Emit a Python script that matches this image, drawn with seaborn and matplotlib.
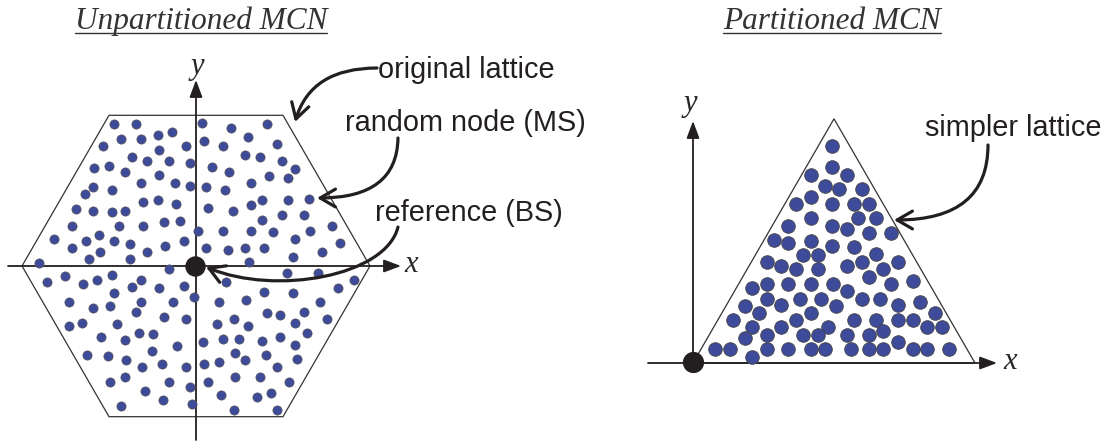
import numpy as np
import pandas as pd
import seaborn as sns
import matplotlib.pyplot as plt
from matplotlib.patches import Polygon, FancyArrowPatch
from matplotlib.path import Path

# random nodes inside the hexagon (origin = reference BS)
hex_x = [-82, -60, -38, -24, -75, -55, -93, -10, -37, -64, -49, -27, -6, -102, -87,
         -71, -37, -55, -21, -6, -103, -111, -84, -120, -103, -84, -71, -53, -38, -20,
         -124, -77, -53, -32, -16, 2, -142, -97, -110, -82, -66, -31, -12, -124, -96,
         -49, -107, -66, -157, -27,
         6, 35, 71, 8, 52, 27, 81, 49, 64, 86, 99, 16, 33, 73, 92, 55, 10, 29, 113, 92,
         66, 55, 12, 37, 86, 108, 66, 27, 55, 77, 114, 136, 99, 144, 10, 32, 49, 68, 126,
         97, 53, 91, 122,
         -149, -131, -113, -99, -84, -82, -64, -55, -37, -12, -2, -127, -103, -86, -55,
         -23, -60, -127, -114, -79, -32, -10, -95, -71, -57, -43, -19, -109, -88, -70,
         -44, -54, -34, -10, -86, -71, -51, -27, -6, -75, -33, -4,
         30, 158, 142, 68, 97, 23, 50, 124, 71, 84, 108, 131, 21, 38, 52, 99, 111, 7, 27,
         43, 66, 84, 99, 39, 49, 70, 101, 8, 23, 81, 12, 39, 64, 93, 25, 61, 75, 38, 81]
hex_y = [142, 142, 131, 134, 127, 127, 120, 120, 116, 109, 105, 105, 103, 98, 100,
         94, 91, 83, 83, 80, 79, 72, 76, 57, 55, 54, 55, 64, 66, 62,
         40, 40, 40, 44, 45, 35, 27, 31, 25, 25, 22, 20, 25, 18, 14,
         14, 7, 7, 3, -3,
         143, 138, 142, 125, 129, 120, 122, 111, 109, 105, 97, 99, 94, 90, 88, 83, 79, 76, 67, 66,
         66, 61, 58, 55, 51, 51, 46, 35, 35, 34, 35, 40, 27, 23, 18, 16, 18, 18, 14,
         9, 4, -7, -7,
         -16, -10, -18, -14, -9, -27, -21, -14, -22, -20, -31, -36, -42, -40, -36,
         -36, -46, -60, -57, -58, -51, -53, -71, -74, -67, -68, -80, -89, -90, -94,
         -85, -101, -98, -101, -116, -111, -125, -116, -121, -140, -134, -138,
         -16, -14, -22, -26, -27, -36, -34, -36, -47, -49, -46, -53, -58, -53, -60, -57, -67, -76, -73,
         -73, -75, -71, -79, -87, -94, -89, -93, -98, -96, -101, -116, -111, -111, -116, -129, -131, -127, -144, -144]

# nodes of the simpler (partitioned) lattice, origin at the triangle corner
tri_x = [139, 139, 118, 154, 132, 146, 169, 118, 103, 139, 161, 176, 118, 165, 183,
         95, 139, 154, 176, 198, 81, 95, 118, 139, 161, 183, 110, 125, 74, 88,
         103, 125, 169, 154, 190, 205, 176, 198, 220, 59, 74, 95, 118, 140, 154,
         74, 107, 128, 169, 187, 52, 88, 143, 205, 227, 66, 118, 242, 40, 103,
         161, 183, 205, 220, 59, 88, 135, 234, 249, 52, 74, 110, 125, 154, 176,
         190, 205, 22, 37, 74, 95, 118, 132, 158, 176, 190, 220, 234, 256, 59]
tri_y = [217, 196, 188, 188, 177, 174, 174, 166, 159, 159, 159, 159, 145, 145, 145,
         137, 137, 134, 130, 130, 123, 120, 122, 117, 116, 109, 108, 108, 101, 97,
         94, 94, 101, 97, 94, 101, 86, 79, 82, 75, 79, 79, 79, 79, 72,
         64, 64, 64, 64, 64, 57, 58, 57, 58, 61, 50, 50, 50, 43, 43,
         43, 43, 43, 43, 36, 36, 36, 36, 36, 25, 28, 28, 28, 28, 28,
         32, 21, 14, 14, 14, 14, 14, 14, 14, 14, 14, 14, 14, 14, 6]

hex_radius = 174
tri_side = 282

titles = ["Unpartitioned MCN", "Partitioned MCN"]
callouts = ["original lattice", "random node (MS)", "reference (BS)", "simpler lattice"]

node_color = "#3e4a9a"
ink = "#231f20"
line_gray = "#6b6b6b"
sans = ["Liberation Sans", "DejaVu Sans"]
serif = ["Liberation Serif", "DejaVu Serif"]
label_size = 20.8

sns.set_theme(style="white")

fig = plt.figure(figsize=(11.07, 4.42), dpi=100)
ax_l = fig.add_axes([0, 0, 620 / 1107, 1])
ax_r = fig.add_axes([620 / 1107, 0, 487 / 1107, 1])
ax_l.set_xlim(-196, 424)
ax_l.set_ylim(-176, 266)
ax_r.set_xlim(-73, 414)
ax_r.set_ylim(-79, 363)
for ax in (ax_l, ax_r):
    ax.set_axis_off()


def axis_arrow(ax, start, tip):
    ax.annotate("", xy=tip, xytext=start,
                arrowprops=dict(arrowstyle="-|>,head_length=0.8,head_width=0.3",
                                mutation_scale=13, lw=1.3, color=line_gray,
                                fc=ink, ec=ink, shrinkA=0, shrinkB=0),
                zorder=2)


def callout(ax, verts, codes):
    p = FancyArrowPatch(path=Path(verts, codes),
                        arrowstyle="->,head_length=0.55,head_width=0.32",
                        mutation_scale=20, lw=2.3, color=ink, zorder=5)
    ax.add_patch(p)


# ---- left panel: unpartitioned hexagon ----
ang = np.deg2rad(np.arange(0, 360, 60))
hexagon = Polygon(np.column_stack([hex_radius * np.cos(ang), hex_radius * np.sin(ang)]),
                  closed=True, fill=False, ec="#333333", lw=0.9, zorder=1)
ax_l.add_patch(hexagon)
axis_arrow(ax_l, (-188, 0), (205, 0))
axis_arrow(ax_l, (0, -174), (0, 186))

df_hex = pd.DataFrame({"x": hex_x, "y": hex_y})
sns.scatterplot(data=df_hex, x="x", y="y", ax=ax_l, s=44, color=node_color,
                edgecolor="#555555", linewidth=0.5, zorder=3)
sns.scatterplot(x=[-1], y=[0], ax=ax_l, s=185, color=ink, edgecolor=ink, zorder=4)

ax_l.text(215, -5.5, "x", fontsize=22, style="italic", family=serif, ha="center", va="baseline")
ax_l.text(1.5, 192, "y", fontsize=22, style="italic", family=serif, ha="center", va="baseline")

ax_l.text(182, 188, callouts[0], fontsize=label_size, family=sans, color=ink, va="baseline")
ax_l.text(149, 135, callouts[1], fontsize=label_size, family=sans, color=ink, va="baseline")
ax_l.text(179, 45, callouts[2], fontsize=label_size, family=sans, color=ink, va="baseline")

callout(ax_l, [(181, 198), (115, 198), (99, 144)], [Path.MOVETO, Path.CURVE3, Path.CURVE3])
callout(ax_l, [(202, 128), (201, 68), (121, 68)], [Path.MOVETO, Path.CURVE3, Path.CURVE3])
callout(ax_l, [(202, 39), (190, -10), (80, -30), (10, -1)],
        [Path.MOVETO, Path.CURVE4, Path.CURVE4, Path.CURVE4])

t_l = ax_l.text(5, 237, titles[0], fontsize=22.5, style="italic", family=serif,
                color="#333333", ha="center", va="baseline")

# ---- right panel: partitioned triangle ----
triangle = Polygon([(0, 0), (tri_side, 0), (tri_side / 2, tri_side * np.sqrt(3) / 2)],
                   closed=True, fill=False, ec="#333333", lw=0.9, zorder=1)
ax_r.add_patch(triangle)
axis_arrow(ax_r, (-45, 0), (304, 0))
axis_arrow(ax_r, (0, -1), (0, 242))

df_tri = pd.DataFrame({"x": tri_x, "y": tri_y})
sns.scatterplot(data=df_tri, x="x", y="y", ax=ax_r, s=96, color=node_color,
                edgecolor="#444444", linewidth=0.6, zorder=3)
sns.scatterplot(x=[0], y=[1], ax=ax_r, s=200, color=ink, edgecolor=ink, zorder=4)

ax_r.text(317, -6, "x", fontsize=22, style="italic", family=serif, ha="center", va="baseline")
ax_r.text(-3, 252, "y", fontsize=22, style="italic", family=serif, ha="center", va="baseline")

ax_r.text(232, 227, callouts[3], fontsize=label_size, family=sans, color=ink, va="baseline")
callout(ax_r, [(295, 218), (295, 143), (201, 143)], [Path.MOVETO, Path.CURVE3, Path.CURVE3])

t_r = ax_r.text(139, 334, titles[1], fontsize=22.5, style="italic", family=serif,
                color="#333333", ha="center", va="baseline")

# underline the two titles
fig.canvas.draw()
for ax, t, base in ((ax_l, t_l, 237), (ax_r, t_r, 334)):
    bb = t.get_window_extent().transformed(ax.transData.inverted())
    ax.plot([bb.x0, bb.x1], [base - 3.5, base - 3.5], color="#333333", lw=1.0)

fig.savefig("out.png", dpi=100)
